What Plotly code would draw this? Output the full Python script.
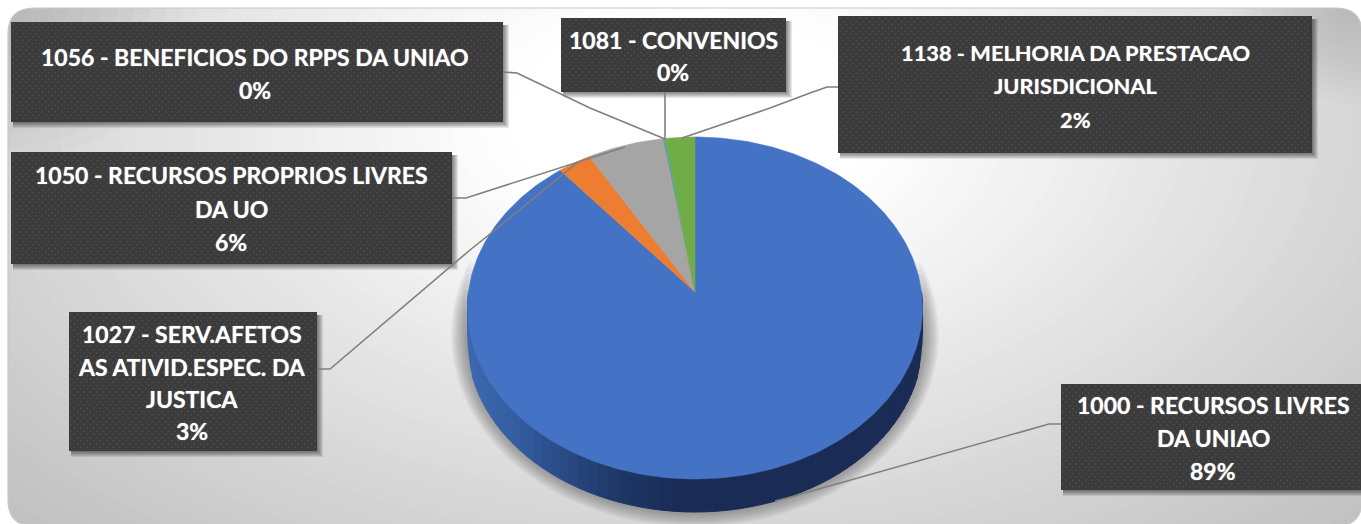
import numpy as np
import plotly.graph_objects as go

# ---------- data ----------
codes = ["1000", "1027", "1050", "1056", "1081", "1138"]
names = ["RECURSOS LIVRES DA UNIAO", "SERV.AFETOS AS ATIVID.ESPEC. DA JUSTICA",
         "RECURSOS PROPRIOS LIVRES DA UO", "BENEFICIOS DO RPPS DA UNIAO",
         "CONVENIOS", "MELHORIA DA PRESTACAO JURISDICIONAL"]
shares = [88.85, 2.6, 5.9, 0.02, 0.18, 2.3]
slice_colors = ["#4472C4", "#ED7D31", "#A5A5A5", "#FFC000", "#5B9BD5", "#70AD47"]

# label wrapping (first lines; the percentage is appended as the last line)
label_lines = [
    ["1000 - RECURSOS LIVRES", "DA UNIAO"],
    ["1027 - SERV.AFETOS", "AS ATIVID.ESPEC. DA", "JUSTICA"],
    ["1050 - RECURSOS PROPRIOS LIVRES", "DA UO"],
    ["1056 - BENEFICIOS DO RPPS DA UNIAO"],
    ["1081 - CONVENIOS"],
    ["1138 - MELHORIA DA PRESTACAO", "JURISDICIONAL"],
]

# ---------- layout (pixel space of the page) ----------
W, H = 1361, 524
CX, CY = 695.0, 292.0      # apex of the slices
A, B, K = 226.5, 169.5, 0.0936  # perspective projection of the disc
DEPTH = 33.0

boxes = [
    (1061, 1361, 384, 490), (69, 317, 312, 451), (11, 452, 152, 264),
    (11, 503, 22, 122), (561, 786, 18, 92), (838, 1312, 16, 153),
]
line_y = [
    [405, 438, 471], [334, 367, 399, 431], [175, 209, 242],
    [57, 90], [40, 72], [52, 85, 119],
]
text_x = [1213, 192, 231, 255, 673, 1075]
text_size = [23, 23, 23, 23, 23, 21.8]
leaders = [
    [(1061, 424), (1049, 424), (787, 498), (775, 501)],
    [(317, 369), (330, 369), (470, 250), (490, 234), (577, 163)],
    [(452, 198), (466, 198), (625, 147)],
    [(503, 72), (517, 73), (590, 108), (665, 139)],
    [(665, 92), (665, 139)],
    [(838, 87), (827, 87), (810, 93), (770, 108), (682, 138)],
]


def project(theta_deg):
    """Clockwise angle from the top of the disc -> page pixels."""
    t = np.radians(theta_deg)
    X, Y = np.sin(t), np.cos(t)
    w = 1 + K * Y
    return CX + A * X / w, CY - B * Y / w


def mix(c0, c1, f):
    a = [int(c0[i:i + 2], 16) for i in (1, 3, 5)]
    b = [int(c1[i:i + 2], 16) for i in (1, 3, 5)]
    return "#%02x%02x%02x" % tuple(round(p + (q - p) * f) for p, q in zip(a, b))


def grey(v):
    v = int(round(v))
    return "#%02x%02x%02x" % (v, v, v)


shapes = []

# panel: stacked ellipses give a radial gradient
shapes.append(dict(type="rect", x0=0, x1=W, y0=0, y1=H, fillcolor="#bcbcbc", line_width=0, layer="below"))
GX, GY, GA, GB = 690, 120, 750, 450
for t in np.linspace(1.5, 0.22, 65):
    if t > 0.85:
        v = 218 - (t - 0.85) / 0.4 * 24
    else:
        v = 255 - (t - 0.25) / 0.6 * 37
    v = min(255, max(188, v))
    shapes.append(dict(type="circle", x0=GX - GA * t, x1=GX + GA * t, y0=GY - GB * t, y1=GY + GB * t,
                       fillcolor=grey(v), line_width=0, layer="below"))

# darker top corners
for (ox, oy, rmax) in [(0, 0, 200), (W, 0, 130)]:
    for r in np.linspace(rmax, 20, 12):
        shapes.append(dict(type="circle", x0=ox - r, x1=ox + r, y0=oy - r * 0.8, y1=oy + r * 0.8,
                           fillcolor="#808080", opacity=0.035, line_width=0, layer="below"))

# white surround with rounded panel corners
PX0, PY0, PX1, PY1, R = 8, 8, W + 1, H + 2, 26
panel = (f"M{PX0 + R},{PY0} L{PX1 - R},{PY0} Q{PX1},{PY0} {PX1},{PY0 + R} L{PX1},{PY1 - R} "
         f"Q{PX1},{PY1} {PX1 - R},{PY1} L{PX0 + R},{PY1} Q{PX0},{PY1} {PX0},{PY1 - R} "
         f"L{PX0},{PY0 + R} Q{PX0},{PY0} {PX0 + R},{PY0} Z")
shapes.append(dict(type="path", path=f"M-5,-5 L{W + 5},-5 L{W + 5},{H + 5} L-5,{H + 5} Z " + panel,
                   fillcolor="#ffffff", fillrule="evenodd", line_width=0, layer="below"))
shapes.append(dict(type="path", path=panel, line=dict(color="#c8c8c8", width=1.2), layer="below"))

# soft shadow under the pie (lower part only), with a stepped fade at its top
for i in range(16):
    rx, ry = 244 - i * 1.3, 192 - i * 1.3
    tilt = 22 - i * 1.6
    ts = np.radians(np.linspace(-tilt, 180 + tilt, 90))
    px = CX + rx * np.cos(ts)
    py = 335 + ry * np.sin(ts)
    path = "M" + " L".join(f"{a:.1f},{b:.1f}" for a, b in zip(px, py)) + " Z"
    shapes.append(dict(type="path", path=path, fillcolor="#505050", opacity=0.05, line_width=0, layer="below"))

# label boxes with soft shadow
for (x0, x1, y0, y1) in boxes:
    for s in range(1, 7):
        e = 7 - s
        shapes.append(dict(type="rect", x0=x0 + 2, x1=x1 + e, y0=y0 + 3, y1=y1 + e,
                           fillcolor="#000000", opacity=0.09, line_width=0, layer="below"))
for (x0, x1, y0, y1) in boxes:
    shapes.append(dict(type="rect", x0=x0, x1=x1, y0=y0, y1=y1, fillcolor="#3b3b3b", line_width=0, layer="below"))

fig = go.Figure()

# dotted texture on the label boxes
dx, dy = [], []
for (x0, x1, y0, y1) in boxes:
    for r, yy in enumerate(np.arange(y0 + 2, y1 - 1, 3.25)):
        for xx in np.arange(x0 + 2 + (r % 2) * 3.25, x1 - 1, 6.5):
            dx.append(float(xx))
            dy.append(float(yy))
fig.add_trace(go.Scatter(x=dx, y=dy, mode="markers", marker=dict(size=2, color="#4b4b4b", line_width=0),
                         hoverinfo="skip", showlegend=False))

# side wall of the big slice
wall_stops = [(467, "#3d69b1"), (520, "#335c9f"), (560, "#2a4b85"), (620, "#1e3766"), (680, "#1a2c55"), (922, "#1a2c55")]
sx = [p for p, _ in wall_stops]


def wall_color(x):
    for i in range(len(sx) - 1):
        if x <= sx[i + 1]:
            return mix(wall_stops[i][1], wall_stops[i + 1][1], max(0, (x - sx[i]) / (sx[i + 1] - sx[i])))
    return wall_stops[-1][1]


def wall_depth(theta):
    return DEPTH * min(1.0, max(0.0, -np.cos(np.radians(theta)) / 0.3)) ** 0.7


edges = np.linspace(90, 270, 71)
for a0, a1 in zip(edges[:-1], edges[1:]):
    x0, y0 = project(a0)
    x1, y1 = project(a1)
    c = wall_color((x0 + x1) / 2)
    fig.add_trace(go.Scatter(x=[x0, x1, x1, x0, x0],
                             y=[y0, y1, y1 + wall_depth(a1), y0 + wall_depth(a0), y0], mode="lines",
                             fill="toself", fillcolor=c, line=dict(color=c, width=1),
                             hoverinfo="skip", showlegend=False))

# top face, clockwise from 12 o'clock, last category ending at 12 o'clock
total = sum(shares)
start = 0.0
for i in range(len(shares)):
    sweep = shares[i] / total * 360
    th = np.linspace(start, start + sweep, max(3, int(sweep) + 2))
    ex, ey = project(th)
    fig.add_trace(go.Scatter(x=[CX, *ex, CX], y=[CY, *ey, CY], mode="lines", fill="toself",
                             fillcolor=slice_colors[i], line=dict(color=slice_colors[i], width=0.6),
                             name=f"{codes[i]} - {names[i]}", hovertemplate="%{fullData.name}<extra></extra>",
                             showlegend=False))
    start += sweep

# leader lines
for pts in leaders:
    fig.add_trace(go.Scatter(x=[p[0] for p in pts], y=[p[1] for p in pts], mode="lines",
                              line=dict(color="#7f7f7f", width=1.6), hoverinfo="skip", showlegend=False))

# text
annotations = []
for i in range(len(codes)):
    lines = label_lines[i] + [f"{round(shares[i])}%"]
    for txt, yy in zip(lines, line_y[i]):
        annotations.append(dict(x=text_x[i], y=yy, xref="x", yref="y", text=f"<b>{txt}</b>", showarrow=False,
                                xanchor="center", yanchor="middle",
                                font=dict(family="Lato, Open Sans, sans-serif", size=text_size[i], color="#ffffff",
                                          shadow="0 0 1px rgba(255,255,255,0.7)")))

fig.update_layout(
    width=W, height=H, margin=dict(l=0, r=0, t=0, b=0), showlegend=False,
    paper_bgcolor="#ffffff", plot_bgcolor="rgba(0,0,0,0)",
    xaxis=dict(range=[0, W], visible=False, fixedrange=True),
    yaxis=dict(range=[H, 0], visible=False, fixedrange=True),
    shapes=shapes, annotations=annotations,
)
fig.write_html("out.html", config={"displayModeBar": False},
               post_script="document.body.style.margin='0';document.body.style.overflow='hidden';")
